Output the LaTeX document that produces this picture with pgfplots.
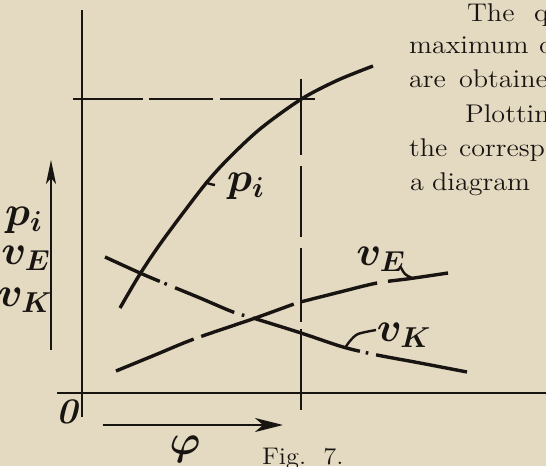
\documentclass[border=0pt]{standalone}
\usepackage{graphicx}
\usepackage{pgfplots}
\pgfplotsset{compat=1.18}
\usetikzlibrary{arrows.meta}
\definecolor{paper}{RGB}{228,217,193}
\definecolor{ink}{RGB}{24,20,17}
\tikzset{
  hand/.style={font=\fontsize{21}{24}\selectfont\boldmath, text=ink},
  book/.style={anchor=base west, font=\fontsize{12.8}{14}\selectfont, text=ink},
}
\newcommand{\wide}[1]{\scalebox{1.1}[1]{#1}}
\begin{document}
\begin{tikzpicture}
\begin{axis}[
  width=273pt, height=233pt, scale only axis,
  xmin=-82, xmax=464, ymin=-73, ymax=393,
  axis line style={draw=none}, ticks=none,
  axis background/.style={fill=paper},
  clip bounding box=upper bound,
]
% axes
\addplot[ink, line width=1pt] coordinates {(0,383) (0,-24)};
\addplot[ink, line width=0.8pt] coordinates {(-25,0) (464,0)};
% guide lines
\addplot[ink, line width=0.9pt, dash pattern={on 35pt off 3pt on 32pt off 3.5pt on 60pt}]
  coordinates {(-9,293.7) (233,293.7)};
\addplot[ink, line width=0.9pt, dash pattern={on 38pt off 5.5pt on 35.5pt off 5.5pt on 37pt off 3.5pt on 45pt}]
  coordinates {(219,314) (219,-17)};
% p_i
\addplot[ink, line width=1.7pt, smooth] coordinates {
  (38,85) (58,119) (81,153) (121,206) (145,233) (178,264) (219,293.7) (255,312.5) (291,327)};
% v_K
\addplot[ink, line width=1.7pt, smooth,
  dash pattern={on 30pt off 2.5pt on 1.3pt off 4.5pt on 32pt off 4pt on 1.3pt off 4.5pt on 56pt off 3pt on 1.3pt off 4pt on 60pt}]
  coordinates {(23,136) (58,120) (84,109) (118,95) (151,81) (171,75) (219,60) (261,46) (295,38) (338,30) (385,21)};
% v_E
\addplot[ink, line width=1.7pt, smooth,
  dash pattern={on 42pt off 4pt on 49pt off 4pt on 39pt off 5.5pt on 40pt}]
  coordinates {(34,22) (73,38) (112,54) (172,74.5) (212,89) (219.7,91.3) (258,101) (295,110) (328,114.4) (366,120)};
% label hooks
\addplot[ink, line width=1.2pt, smooth] coordinates {(123,211) (128,209) (133,208)};
\addplot[ink, line width=1.2pt, smooth] coordinates {(318,127) (323,119) (330,115)};
\addplot[ink, line width=1.2pt, smooth] coordinates {(263,45) (268,52) (276,59) (294,63)};
% arrows
\addplot[ink, line width=1pt, -{Stealth[length=12pt,width=5pt,inset=3pt]}] coordinates {(-31,43) (-31,233)};
\addplot[ink, line width=1pt, -{Stealth[length=14pt,width=7pt,inset=4pt]}] coordinates {(21,-32) (201,-32)};
% handwritten labels
\node[hand] at (axis cs:164,207) {$p_i$};
\node[hand] at (axis cs:-58,173) {$p_i$};
\node[hand] at (axis cs:-56,135) {$v_E$};
\node[hand] at (axis cs:-57,93) {$v_K$};
\node[hand] at (axis cs:299,134) {$v_E$};
\node[hand] at (axis cs:322,58) {$v_K$};
\node[hand, font=\fontsize{18}{20}\selectfont\itshape\bfseries] at (axis cs:-15,-19) {0};
\node[hand, font=\fontsize{21}{23}\selectfont\boldmath] at (axis cs:103,-56) {$\varphi$};
\node[anchor=base west, font=\fontsize{12}{13}\selectfont, text=ink] at (axis cs:173,-71) {\wide{Fig.\ \ 7.}};
% text of the page
\node[book] at (axis cs:378,371.3) {\wide{The}};
\node[book] at (axis cs:445,371.3) {\wide{qu}};
\node[book] at (axis cs:320,339) {\wide{maximum}};
\node[book] at (axis cs:450,339) {\wide{d}};
\node[book] at (axis cs:320,305) {\wide{are}};
\node[book] at (axis cs:370,305) {\wide{obtained}};
\node[book] at (axis cs:376,270) {\wide{Plotting}};
\node[book] at (axis cs:320,236) {\wide{the}};
\node[book] at (axis cs:370,236) {\wide{corresponding}};
\node[book] at (axis cs:321,202) {\wide{a}};
\node[book] at (axis cs:343,202) {\wide{diagram}};
\end{axis}
\end{tikzpicture}
\end{document}
